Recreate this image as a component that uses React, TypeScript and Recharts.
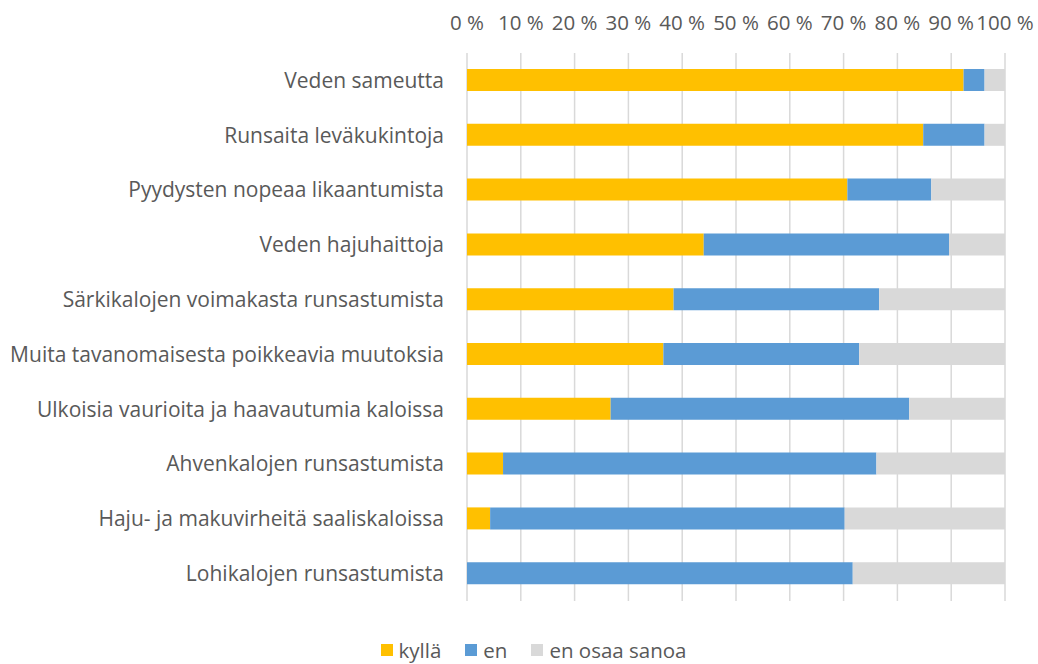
import { BarChart, Bar, XAxis, YAxis, CartesianGrid, Legend } from "recharts";

const categories = [
  "Veden sameutta",
  "Runsaita leväkukintoja",
  "Pyydysten nopeaa likaantumista",
  "Veden hajuhaittoja",
  "Särkikalojen voimakasta runsastumista",
  "Muita tavanomaisesta poikkeavia muutoksia",
  "Ulkoisia vaurioita ja haavautumia kaloissa",
  "Ahvenkalojen runsastumista",
  "Haju- ja makuvirheitä saaliskaloissa",
  "Lohikalojen runsastumista",
];

const kylla = [92.3, 84.8, 70.7, 44.0, 38.4, 36.5, 26.7, 6.7, 4.3, 0];
const en = [3.9, 11.4, 15.6, 45.6, 38.2, 36.4, 55.5, 69.4, 65.9, 71.7];
const eos = [3.8, 3.8, 13.7, 10.4, 23.4, 27.1, 17.8, 23.9, 29.8, 28.3];

const seriesNames = ["kyllä", "en", "en osaa sanoa"];

const xTicks = [0, 10, 20, 30, 40, 50, 60, 70, 80, 90, 100];

const data = categories.map((name, i) => ({
  name,
  kylla: kylla[i],
  en: en[i],
  eos: eos[i],
}));

const FONT = "'Open Sans', sans-serif";
const TEXT = "#595959";

function LegendContent(props: any) {
  const items = [...(props.payload || [])].sort(
    (a: any, b: any) => seriesNames.indexOf(a.value) - seriesNames.indexOf(b.value)
  );
  return (
    <div style={{ display: "flex", justifyContent: "center", gap: 24, marginLeft: 62, fontFamily: FONT, fontSize: 20.5, color: TEXT, lineHeight: "24px" }}>
      {items.map((it: any) => (
        <div key={it.value} style={{ display: "flex", alignItems: "center" }}>
          <span style={{ width: 12, height: 12, background: it.color, display: "inline-block", marginRight: 6 }} />
          <span>{it.value}</span>
        </div>
      ))}
    </div>
  );
}

export default function App() {
  return (
    <div style={{ position: "absolute", left: 0, top: 0, background: "#fff" }}>
      <BarChart
        layout="vertical"
        width={1038}
        height={664}
        data={data}
        barSize={22}
        margin={{ top: 13, right: 33, left: 0, bottom: 39 }}
      >
        <CartesianGrid horizontal={false} stroke="#d9d9d9" strokeWidth={1.5} />
        <XAxis
          type="number"
          orientation="top"
          domain={[0, 100]}
          ticks={xTicks}
          interval={0}
          height={40}
          tickFormatter={(v) => `${v} %`}
          axisLine={false}
          tickLine={false}
          tickSize={0}
          tickMargin={23}
          tick={{ fill: TEXT, fontSize: 20.5, fontFamily: FONT }}
        />
        <YAxis
          type="category"
          dataKey="name"
          width={467}
          axisLine={false}
          tickLine={false}
          tickSize={0}
          tickMargin={23}
          interval={0}
          tick={{ fill: TEXT, fontSize: 21, fontFamily: FONT }}
        />
        <Legend verticalAlign="bottom" align="center" content={LegendContent} wrapperStyle={{ bottom: 2 }} />
        <Bar dataKey="kylla" name="kyllä" stackId="a" fill="#FFC000" isAnimationActive={false} />
        <Bar dataKey="en" name="en" stackId="a" fill="#5B9BD5" isAnimationActive={false} />
        <Bar dataKey="eos" name="en osaa sanoa" stackId="a" fill="#D9D9D9" isAnimationActive={false} />
      </BarChart>
    </div>
  );
}
